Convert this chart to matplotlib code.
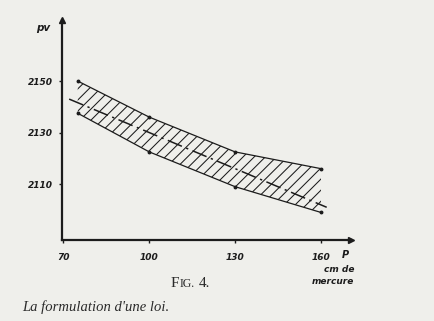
import matplotlib
matplotlib.use('Agg')
import matplotlib.pyplot as plt

plt.rcParams['hatch.linewidth'] = 0.75
plt.rcParams['hatch.color'] = '#2a2a2a'

# band limits, pressure p in cm of mercury vs product pv
p_band = [75, 100, 130, 160]
pv_upper = [2150, 2136, 2122.5, 2116]
pv_lower = [2137.5, 2122.5, 2109, 2099]

# fitted law (dash-dot)
p_law = [72, 100, 130, 162]
pv_law = [2143, 2130, 2116, 2101]

xticks = [70, 100, 130, 160]
yticks = [2110, 2130, 2150]

bg = '#efefeb'
ink = '#1c1c1c'
hand = dict(family='DejaVu Sans', style='italic', weight='bold', color=ink)

fig = plt.figure(figsize=(4.34, 3.21), dpi=100, facecolor=bg)
ax = fig.add_axes([0.1435, 0.2523, 0.6653, 0.6854])
ax.set_facecolor(bg)

ax.fill_between(p_band, pv_lower, pv_upper, facecolor='none', edgecolor=ink,
                hatch='///', linewidth=0)
ax.plot(p_band, pv_upper, color=ink, lw=0.9, marker='o', ms=1.8)
ax.plot(p_band, pv_lower, color=ink, lw=0.9, marker='o', ms=1.8)
ax.plot(p_law, pv_law, color=ink, lw=1.1, linestyle=(0, (10, 3, 1.5, 3)))

ax.set_xlim(69.6, 170.5)
ax.set_ylim(2088.3, 2173.7)

for s in ['top', 'right']:
    ax.spines[s].set_visible(False)
for s in ['left', 'bottom']:
    ax.spines[s].set_linewidth(1.6)
    ax.spines[s].set_color(ink)

# arrow heads
ax.plot(1, 0, marker='>', color=ink, ms=5, transform=ax.transAxes, clip_on=False)
ax.plot(0, 1, marker='^', color=ink, ms=5, transform=ax.transAxes, clip_on=False)

ax.set_xticks(xticks)
ax.set_xticklabels([str(v) for v in xticks])
ax.set_yticks(yticks)
ax.set_yticklabels([str(v) for v in yticks])
ax.tick_params(axis='both', length=2, width=1, color=ink, direction='out')
ax.tick_params(axis='x', pad=7)
ax.tick_params(axis='y', pad=5)
for lab in ax.get_xticklabels() + ax.get_yticklabels():
    lab.set_fontfamily('DejaVu Sans')
    lab.set_fontstyle('italic')
    lab.set_fontweight('bold')
    lab.set_fontsize(6.5)
    lab.set_color(ink)

fig.text(43.5 / 434, 1 - 28 / 321, 'pv', fontsize=7.5, ha='center', va='center', **hand)
fig.text(345 / 434, 1 - 255 / 321, 'P', fontsize=7, ha='center', va='center', **hand)
fig.text(354 / 434, 1 - 269 / 321, 'cm de', fontsize=6.5, ha='right', va='center', **hand)
fig.text(354 / 434, 1 - 282 / 321, 'mercure', fontsize=6.5, ha='right', va='center', **hand)

serif = dict(family='Liberation Serif', color='#2a2a2a')
t1 = fig.text(171 / 434, 1 - 287 / 321, 'F', fontsize=11, ha='left', va='baseline', **serif)
t2 = ax.annotate('IG.', xy=(1, 0), xycoords=t1, xytext=(0, 0), textcoords='offset points',
                 fontsize=8.5, ha='left', va='bottom', **serif)
ax.annotate('4.', xy=(1, 0), xycoords=t2, xytext=(3, 0), textcoords='offset points',
            fontsize=11, ha='left', va='bottom', **serif)

fig.text(22 / 434, 1 - 311 / 321, "La formulation d'une loi.", fontsize=10.5,
         ha='left', va='baseline', style='italic', **serif)

fig.savefig('out.png', dpi=100, facecolor=bg)
